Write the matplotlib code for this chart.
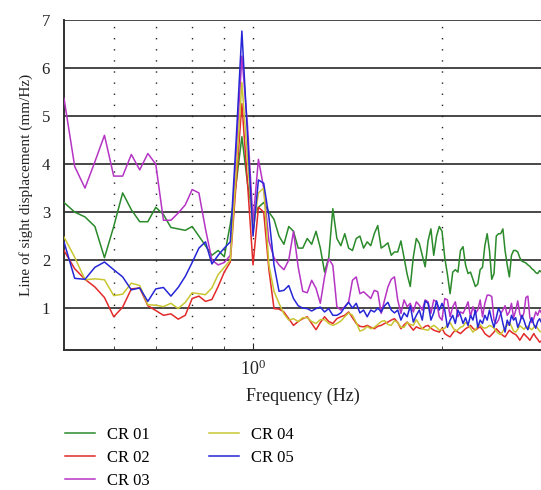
import numpy as np
import matplotlib
matplotlib.use("Agg")
import matplotlib.pyplot as plt
from matplotlib.ticker import FixedLocator, NullFormatter

plt.rcParams['font.family'] = ['Liberation Serif', 'DejaVu Serif']
plt.rcParams['mathtext.default'] = 'regular'

# spectra sampled every 0.02 Hz starting at 0.5 Hz
freq_start = 0.5
freq_step = 0.02

cr01 = [3.20, 3.00, 2.90, 2.70, 2.05, 2.70, 3.40, 3.05, 2.80, 2.80,
        3.10, 2.95, 2.68, 2.65, 2.62, 2.70, 2.50, 2.30, 2.10, 2.20,
        2.07, 2.75, 3.60, 4.57, 3.60, 2.90, 3.10, 3.20, 3.00, 2.85,
        2.50, 2.33, 2.70, 2.60, 2.25, 2.25, 2.45, 2.33, 2.60, 2.25,
        1.75, 2.05, 3.07, 2.45, 2.30, 2.55, 2.25, 2.20, 2.45, 2.50,
        2.25, 2.38, 2.30, 2.55, 2.72, 2.25, 2.30, 2.36, 2.10, 2.17,
        2.17, 2.40, 2.05, 1.70, 1.45, 2.06, 2.45, 2.35, 2.10, 1.86,
        2.40, 2.65, 2.10, 2.50, 2.70, 2.60, 2.05, 1.70, 1.30, 1.75,
        1.80, 1.75, 2.20, 2.28, 1.90, 1.72, 1.75, 1.60, 1.45, 1.50,
        1.80, 1.85, 2.30, 2.55, 2.20, 1.60, 1.72, 2.50, 2.55, 2.55,
        2.65, 2.20, 1.90, 1.65, 2.10, 2.20, 2.20, 2.17, 2.05, 1.98,
        1.96, 1.94, 1.90, 1.87, 1.82, 1.79, 1.74, 1.72, 1.78, 1.75]

cr02 = [2.20, 1.82, 1.60, 1.44, 1.22, 0.82, 1.02, 1.40, 1.42, 1.05,
        0.95, 0.85, 0.88, 0.77, 0.85, 1.20, 1.25, 1.14, 1.18, 1.45,
        1.75, 1.96, 3.60, 5.26, 3.60, 1.90, 3.10, 3.00, 1.80, 0.99,
        0.98, 0.92, 0.78, 0.64, 0.72, 0.78, 0.82, 0.68, 0.55, 0.70,
        0.82, 0.72, 0.68, 0.78, 0.82, 0.85, 0.92, 0.80, 0.68, 0.62,
        0.61, 0.64, 0.60, 0.57, 0.62, 0.64, 0.68, 0.71, 0.75, 0.78,
        0.70, 0.57, 0.65, 0.71, 0.62, 0.54, 0.61, 0.58, 0.57, 0.62,
        0.64, 0.58, 0.54, 0.52, 0.50, 0.58, 0.47, 0.43, 0.40, 0.48,
        0.54, 0.50, 0.47, 0.52, 0.57, 0.60, 0.64, 0.58, 0.54, 0.58,
        0.61, 0.55, 0.47, 0.43, 0.40, 0.45, 0.50, 0.57, 0.52, 0.47,
        0.43, 0.40, 0.47, 0.54, 0.50, 0.47, 0.45, 0.40, 0.33, 0.40,
        0.47, 0.42, 0.38, 0.33, 0.40, 0.47, 0.40, 0.35, 0.29, 0.32]

cr03 = [5.37, 3.95, 3.50, 4.05, 4.60, 3.75, 3.75, 4.20, 3.88, 4.22,
        4.00, 2.83, 2.83, 2.98, 3.15, 3.47, 3.40, 2.65, 2.00, 1.90,
        1.95, 2.10, 4.20, 6.25, 4.80, 2.80, 4.10, 3.50, 2.40, 2.05,
        1.90, 1.80, 2.00, 2.60, 1.86, 1.35, 1.32, 1.58, 1.41, 1.10,
        1.65, 2.03, 1.89, 1.03, 0.96, 1.03, 1.13, 1.58, 1.65, 1.30,
        1.34, 1.27, 1.20, 1.37, 1.34, 0.89, 1.17, 1.44, 1.60, 1.65,
        1.17, 0.89, 1.17, 1.03, 1.10, 0.92, 1.13, 1.06, 0.96, 1.17,
        1.13, 0.89, 1.17, 1.13, 0.82, 0.75, 1.20, 1.17, 0.82, 1.03,
        1.13, 0.82, 0.92, 0.89, 1.00, 1.13, 0.82, 1.03, 0.89, 0.96,
        1.17, 0.82, 1.10, 1.27, 1.27, 1.24, 0.75, 0.68, 0.75, 0.89,
        0.96, 1.05, 0.85, 0.92, 1.10, 0.80, 0.95, 1.15, 0.88, 0.78,
        0.90, 1.22, 1.25, 0.80, 0.70, 0.78, 0.92, 0.85, 0.96, 0.90]

cr04 = [2.48, 2.06, 1.59, 1.61, 1.59, 1.26, 1.29, 1.52, 1.47, 1.07,
        1.06, 1.03, 1.10, 0.99, 1.12, 1.32, 1.30, 1.28, 1.42, 1.70,
        1.85, 2.00, 3.80, 5.70, 4.10, 2.60, 3.40, 3.50, 1.90, 1.35,
        1.10, 0.88, 0.75, 0.78, 0.72, 0.80, 0.80, 0.72, 0.68, 0.76,
        0.76, 0.68, 0.64, 0.68, 0.73, 0.82, 0.90, 0.85, 0.70, 0.52,
        0.55, 0.62, 0.57, 0.60, 0.66, 0.72, 0.74, 0.66, 0.64, 0.74,
        0.70, 0.60, 0.60, 0.70, 0.66, 0.64, 0.76, 0.66, 0.57, 0.55,
        0.54, 0.60, 0.64, 0.60, 0.54, 0.56, 0.58, 0.65, 0.70, 0.60,
        0.52, 0.55, 0.60, 0.62, 0.70, 0.66, 0.58, 0.50, 0.55, 0.62,
        0.66, 0.60, 0.58, 0.60, 0.64, 0.62, 0.58, 0.52, 0.47, 0.45,
        0.52, 0.60, 0.64, 0.70, 0.62, 0.52, 0.50, 0.56, 0.63, 0.60,
        0.56, 0.60, 0.62, 0.58, 0.55, 0.60, 0.64, 0.58, 0.52, 0.50]

cr05 = [2.38, 1.62, 1.60, 1.85, 1.96, 1.80, 1.65, 1.38, 1.42, 1.14,
        1.40, 1.43, 1.25, 1.43, 1.66, 1.95, 2.25, 2.38, 1.92, 2.10,
        2.25, 2.38, 4.50, 6.77, 4.60, 2.50, 3.67, 3.60, 2.90, 1.90,
        1.35, 1.37, 1.47, 1.20, 1.05, 1.00, 0.99, 0.94, 0.99, 1.02,
        0.92, 0.99, 0.85, 0.85, 0.90, 1.02, 1.12, 1.00, 1.10, 0.90,
        0.96, 0.82, 0.96, 0.92, 1.00, 0.92, 1.05, 1.12, 0.96, 0.90,
        0.96, 0.75, 0.90, 0.82, 1.05, 0.71, 0.85, 0.96, 0.75, 1.15,
        1.10, 0.75, 0.90, 1.15, 0.96, 1.10, 0.96, 0.60, 0.75, 0.85,
        0.68, 0.96, 0.85, 0.68, 0.80, 0.64, 0.85, 0.75, 0.96, 0.60,
        0.75, 0.68, 0.85, 0.75, 0.96, 0.75, 0.60, 0.80, 1.00, 0.90,
        0.68, 0.50, 0.75, 0.64, 0.85, 0.75, 0.80, 0.60, 0.70, 0.85,
        0.75, 0.62, 0.55, 0.70, 0.80, 0.66, 0.58, 0.72, 0.78, 0.70]

labels = ["CR 01", "CR 02", "CR 03", "CR 04", "CR 05"]
colors = ["#2b8a2b", "#e22a2a", "#b534c4", "#c9c632", "#2626d6"]
series = [cr01, cr02, cr03, cr04, cr05]

freqs = freq_start + freq_step * np.arange(len(cr01))

fig = plt.figure(figsize=(5.41, 4.90), dpi=100)
ax = fig.add_axes([0.1183, 0.285, 0.8817, 0.674])

lines = []
for vals, lab, col in zip(series, labels, colors):
    ln, = ax.plot(freqs, vals, color=col, lw=1.1, label=lab, zorder=3)
    lines.append(ln)

ax.set_xscale('log')
ax.set_xlim(0.5, 2.875)
ax.set_ylim(0.12, 7)

# horizontal solid grid at integer values
for yv in range(1, 8):
    ax.axhline(yv, color='#484848', lw=1.4, zorder=1)
# dotted vertical grid at decade subdivisions
for xv in [0.6, 0.7, 0.8, 0.9, 1.0, 2.0]:
    ax.axvline(xv, color='#222222', lw=1.0, ls=(0, (1, 7)), zorder=1)

ax.xaxis.set_major_locator(FixedLocator([1.0]))
ax.xaxis.set_minor_locator(FixedLocator([0.6, 0.7, 0.8, 0.9, 2.0]))
ax.xaxis.set_minor_formatter(NullFormatter())
ax.set_xticklabels([r'$10^0$'])
ax.set_yticks(range(1, 8))

ax.tick_params(axis='both', which='both', direction='in', labelsize=12, colors='#222222')
ax.tick_params(axis='x', which='major', length=5, pad=7, labelsize=13)
ax.tick_params(axis='x', which='minor', length=3)
ax.tick_params(axis='y', length=0, pad=10)

for side in ['top', 'right']:
    ax.spines[side].set_visible(False)
for side in ['left', 'bottom']:
    ax.spines[side].set_linewidth(1.4)
    ax.spines[side].set_color('#303030')

ax.set_xlabel("Frequency (Hz)", fontsize=13, labelpad=6, color='#222222')
ax.set_ylabel("Line of sight displacement (mm/Hz)", fontsize=11, labelpad=6, color='#222222')

fig.legend(handles=lines, labels=labels, loc='upper left', bbox_to_anchor=(0.1087, 0.143),
           ncol=2, frameon=False, fontsize=12, handlelength=1.8, handletextpad=0.72,
           columnspacing=3.5, labelspacing=0.44, borderaxespad=0)

fig.savefig('out.png', dpi=100)
